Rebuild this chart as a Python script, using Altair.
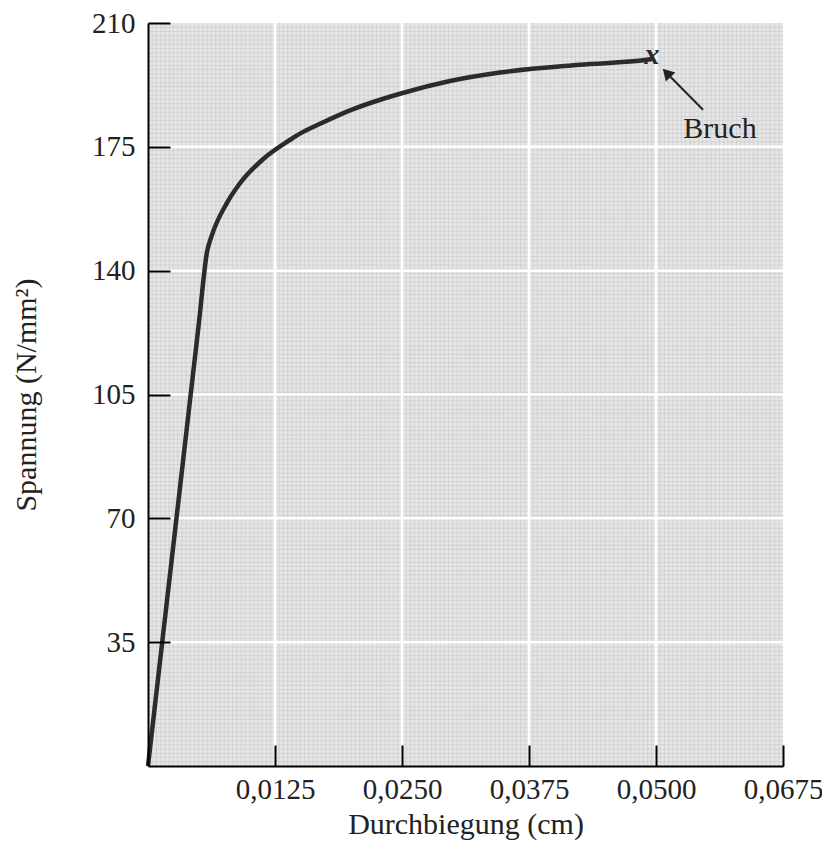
import altair as alt
import pandas as pd

# ---- data ----
deflection = [0, 0.0030, 0.0050, 0.00581, 0.0063, 0.00780, 0.00900, 0.01132, 0.01400,
              0.01500, 0.01693, 0.01988, 0.02480, 0.02972, 0.03465, 0.04250, 0.04911, 0.04960]
stress = [0, 75.0, 125.0, 145.3, 150.1, 159.3, 164.5, 171.5, 177.0,
          178.8, 181.5, 185.3, 190.0, 193.6, 196.0, 198.2, 199.6, 199.8]

x_ticks = [0.0125, 0.0250, 0.0375, 0.0500, 0.0625]
x_tick_labels = ["0,0125", "0,0250", "0,0375", "0,0500", "0,0675"]
y_ticks = [35, 70, 105, 140, 175, 210]

x_domain = [0, 0.0625]
y_domain = [0, 210]

break_point = {"x": [0.0496], "y": [199.8], "label": ["x"]}
arrow_line = {"x": [0.05463], "y": [185.5], "x2": [0.05100], "y2": [196.0]}
arrow_head = {"x": [0.05105], "y": [195.9]}
note = {"x": [0.0563], "y": [177.6], "label": ["Bruch"]}

n_minor_x = 150
n_minor_y = 175
x_minor = [x_domain[1] * i / n_minor_x for i in range(1, n_minor_x)]
y_minor = [y_domain[1] * i / n_minor_y for i in range(1, n_minor_y)]

FONT = "Liberation Serif, Times New Roman, Times, serif"
FS = 29
FT = 30

label_expr = "".join(
    f"abs(datum.value - {v}) < 1e-7 ? '{l}' : " for v, l in zip(x_ticks, x_tick_labels)
) + "''"

def xs():
    return alt.Scale(domain=x_domain, nice=False, zero=False)

def ys():
    return alt.Scale(domain=y_domain, nice=False, zero=False)

curve_df = pd.DataFrame({"x": deflection, "y": stress})

minor_v = alt.Chart(pd.DataFrame({"x": x_minor})).mark_rule(
    color="#cbcbcb", strokeWidth=0.7
).encode(x=alt.X("x:Q", scale=xs(), axis=None))

minor_h = alt.Chart(pd.DataFrame({"y": y_minor})).mark_rule(
    color="#cbcbcb", strokeWidth=0.7
).encode(y=alt.Y("y:Q", scale=ys(), axis=None))

major_v = alt.Chart(pd.DataFrame({"x": x_ticks[:-1]})).mark_rule(
    color="white", strokeWidth=2.5
).encode(x=alt.X("x:Q", scale=xs(), axis=None))

major_h = alt.Chart(pd.DataFrame({"y": y_ticks[:-1]})).mark_rule(
    color="white", strokeWidth=2.5
).encode(y=alt.Y("y:Q", scale=ys(), axis=None))

curve = alt.Chart(curve_df).mark_line(
    color="#2b2b2b", strokeWidth=4.5, interpolate="monotone"
).encode(
    x=alt.X("x:Q", scale=xs(), axis=alt.Axis(
        orient="bottom", values=x_ticks, labelExpr=label_expr, ticks=False,
        grid=False, domainColor="black", domainWidth=2, labelFont=FONT,
        labelFontSize=FS, labelColor="#222", labelPadding=9,
        title="Durchbiegung (cm)", titleFont=FONT, titleFontSize=FT,
        titleFontWeight="normal", titleColor="#222", titlePadding=5,
        zindex=1, labelOverlap=False, labelFlush=False)),
    y=alt.Y("y:Q", scale=ys(), axis=alt.Axis(
        orient="left", values=y_ticks, ticks=False, grid=False,
        domainColor="black", domainWidth=2, labelFont=FONT, labelFontSize=FS,
        labelColor="#222", labelPadding=13, title="Spannung (N/mm²)",
        titleFont=FONT, titleFontSize=FT, titleFontWeight="normal",
        titleColor="#222", titlePadding=50, zindex=1, labelOverlap=False,
        labelFlush=False)),
)

tick_layer = alt.Chart(pd.DataFrame({"x": [x_domain[0]], "y": [y_domain[0]]})).mark_point(
    opacity=0
).encode(
    x=alt.X("x:Q", scale=xs(), axis=alt.Axis(
        orient="top", offset=-743, values=x_ticks, labels=False, domain=False,
        grid=False, ticks=True, tickSize=21, tickWidth=2, tickColor="black",
        title=None, zindex=1)),
    y=alt.Y("y:Q", scale=ys(), axis=alt.Axis(
        orient="right", offset=-635, values=y_ticks, labels=False, domain=False,
        grid=False, ticks=True, tickSize=22, tickWidth=2, tickColor="black",
        title=None, zindex=1)),
)

marker = alt.Chart(pd.DataFrame(break_point)).mark_text(
    font=FONT, fontSize=30, fontStyle="italic", fontWeight="bold",
    color="#2b2b2b", align="center", baseline="middle", dy=-4
).encode(
    x=alt.X("x:Q", scale=xs(), axis=None),
    y=alt.Y("y:Q", scale=ys(), axis=None),
    text="label:N",
)

arrow = alt.Chart(pd.DataFrame(arrow_line)).mark_rule(
    color="#222", strokeWidth=2
).encode(
    x=alt.X("x:Q", scale=xs(), axis=None),
    y=alt.Y("y:Q", scale=ys(), axis=None),
    x2="x2:Q", y2="y2:Q",
)

head = alt.Chart(pd.DataFrame(arrow_head)).mark_point(
    shape="triangle-up", filled=True, color="#222", size=170, angle=316, opacity=1
).encode(
    x=alt.X("x:Q", scale=xs(), axis=None),
    y=alt.Y("y:Q", scale=ys(), axis=None),
)

text = alt.Chart(pd.DataFrame(note)).mark_text(
    font=FONT, fontSize=FT, color="#222", align="center", baseline="alphabetic"
).encode(
    x=alt.X("x:Q", scale=xs(), axis=None),
    y=alt.Y("y:Q", scale=ys(), axis=None),
    text="label:N",
)

chart = alt.layer(
    minor_v, minor_h, major_v, major_h, curve, tick_layer, marker, arrow, head, text
).resolve_scale(x="independent", y="independent").properties(
    width=635, height=743,
    padding={"left": 140, "top": 15, "right": 39, "bottom": 78},
    autosize="none",
    background="white",
).configure_view(fill="#e6e6e6", stroke=None)

chart.save("out.html", embed_options={"renderer": "svg", "actions": False})
